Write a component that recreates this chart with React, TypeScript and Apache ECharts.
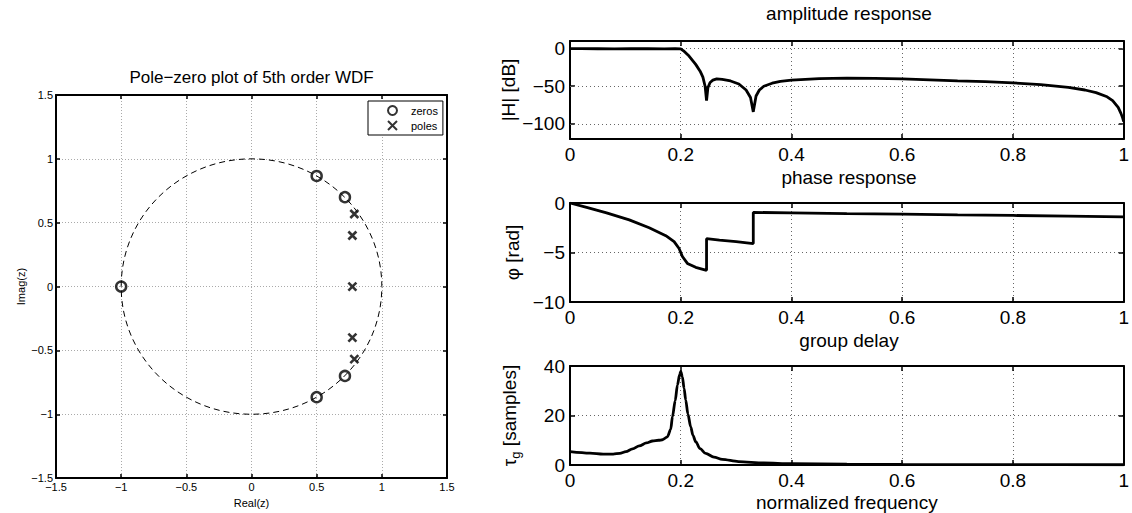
import React, { useEffect, useRef } from 'react';
import * as echarts from 'echarts';

// ---- pole-zero data ----
const zerosRe = [-1, 0.5, 0.5, 0.717, 0.717];
const zerosIm = [0, 0.866, -0.866, 0.7, -0.7];
const polesRe = [0.789, 0.774, 0.774, 0.774, 0.789];
const polesIm = [0.568, 0.4, 0, -0.4, -0.568];
const unitCircle = [[0, 0, 1]]; // centre re, centre im, radius

// ---- amplitude response ----
const ampFreq = [0, 0.02, 0.05, 0.08, 0.11, 0.14, 0.17, 0.19, 0.2, 0.205, 0.215, 0.227, 0.235, 0.24, 0.244, 0.2466, 0.249, 0.253, 0.258, 0.265, 0.275, 0.29, 0.305, 0.318, 0.326, 0.331, 0.336, 0.342, 0.35, 0.365, 0.38, 0.4, 0.45, 0.5, 0.55, 0.6, 0.65, 0.7, 0.75, 0.8, 0.85, 0.9, 0.93, 0.95, 0.97, 0.98, 0.99, 0.995, 0.998, 1.0];
const ampDb = [0, -0.1, -0.3, -0.45, -0.3, -0.2, -0.4, -0.3, -0.5, -3, -10, -21, -30, -38, -50, -69, -52, -45, -42, -40.3, -40.8, -43, -47, -55, -65, -84, -63, -55, -50, -46, -43.5, -42, -40, -39.2, -39.5, -40.3, -41.5, -42.8, -44, -45.5, -48, -51.5, -55, -58.5, -64, -69, -78, -86, -92, -97];
const ampTicks = [-100, -50, 0];

// ---- phase response ----
const phaseFreq = [0, 0.03, 0.066, 0.107, 0.143, 0.173, 0.188, 0.197, 0.203, 0.212, 0.227, 0.2466, 0.2466, 0.27, 0.3, 0.331, 0.331, 0.4, 0.5, 0.6, 0.7, 0.8, 0.9, 1.0];
const phaseRad = [0, -0.45, -1.0, -1.7, -2.5, -3.3, -3.9, -4.6, -5.4, -6.1, -6.5, -6.8, -3.6, -3.75, -3.9, -4.1, -0.95, -1.0, -1.07, -1.13, -1.2, -1.26, -1.32, -1.4];

// ---- group delay ----
const gdFreq = [0, 0.036, 0.06, 0.078, 0.09, 0.101, 0.113, 0.125, 0.138, 0.149, 0.16, 0.167, 0.176, 0.182, 0.185, 0.19, 0.194, 0.198, 0.2, 0.203, 0.206, 0.209, 0.213, 0.218, 0.222, 0.227, 0.235, 0.245, 0.26, 0.275, 0.304, 0.35, 0.4, 0.5, 0.6, 0.8, 1.0];
const gdSamples = [5.4, 4.8, 4.4, 4.4, 4.7, 5.4, 6.5, 7.7, 8.9, 9.7, 10.0, 10.2, 11.4, 14.5, 19.5, 26, 32.3, 36.5, 37.8, 35.6, 31, 26.2, 20.5, 15.4, 12, 9.4, 6.6, 4.7, 3.2, 2.3, 1.4, 0.8, 0.5, 0.3, 0.2, 0.15, 0.1];

const FONT = 'Liberation Sans, Arial, Helvetica, sans-serif';
const minus = (v: number) => (v < 0 ? '\u2212' + String(Math.abs(v)) : String(v));

const X_PATH = 'path://M0,0L10,10M10,0L0,10';

function mainX(grid: number, min: number, max: number, interval: number, fs: number, tickLen: number, margin: number, grid_color: string, dash: number[], name?: string, nameGap?: number) {
  return {
    type: 'value', gridIndex: grid, position: 'bottom', min, max, interval,
    name: name || '', nameLocation: 'middle', nameGap: nameGap || 0,
    nameTextStyle: { fontSize: fs, color: '#000', fontFamily: FONT },
    axisLine: { show: true, onZero: false, lineStyle: { color: '#000', width: 2 } },
    axisTick: { show: true, inside: true, length: tickLen, lineStyle: { color: '#000', width: 1.5 } },
    axisLabel: { show: true, fontSize: fs, color: '#000', fontFamily: FONT, margin, formatter: minus },
    splitLine: { show: true, lineStyle: { color: grid_color, type: dash, width: 1 } },
  };
}
function topX(grid: number, min: number, max: number, interval: number, tickLen: number) {
  return {
    type: 'value', gridIndex: grid, position: 'top', min, max, interval,
    axisLine: { show: true, onZero: false, lineStyle: { color: '#000', width: 2 } },
    axisTick: { show: true, inside: true, length: tickLen, lineStyle: { color: '#000', width: 1.5 } },
    axisLabel: { show: false },
    splitLine: { show: false },
  };
}
function leftY(grid: number, min: number, max: number, interval: number | undefined, fs: number, tickLen: number, margin: number, grid_color: string, dash: number[], name: any, nameGap: number, custom?: number[], nameRich?: any) {
  const ax: any = {
    type: 'value', gridIndex: grid, position: 'left', min, max,
    name, nameLocation: 'middle', nameGap, nameRotate: 90,
    nameTextStyle: { fontSize: fs, color: '#000', fontFamily: FONT, rich: nameRich },
    axisLine: { show: true, onZero: false, lineStyle: { color: '#000', width: 2 } },
    axisTick: { show: true, inside: true, length: tickLen, lineStyle: { color: '#000', width: 1.5 } },
    axisLabel: { show: true, fontSize: fs, color: '#000', fontFamily: FONT, margin, formatter: minus },
    splitLine: { show: !custom, lineStyle: { color: grid_color, type: dash, width: 1 } },
  };
  if (interval !== undefined) ax.interval = interval;
  if (custom) {
    ax.axisTick.customValues = custom;
    ax.axisLabel.customValues = custom;
  }
  return ax;
}
function rightY(grid: number, min: number, max: number, interval: number | undefined, tickLen: number, custom?: number[]) {
  const ax: any = {
    type: 'value', gridIndex: grid, position: 'right', min, max,
    axisLine: { show: true, onZero: false, lineStyle: { color: '#000', width: 2 } },
    axisTick: { show: true, inside: true, length: tickLen, lineStyle: { color: '#000', width: 1.5 } },
    axisLabel: { show: false },
    splitLine: { show: false },
  };
  if (interval !== undefined) ax.interval = interval;
  if (custom) ax.axisTick.customValues = custom;
  return ax;
}

export default function App() {
  const ref = useRef<HTMLDivElement>(null);
  useEffect(() => {
    if (!ref.current) return;
    const chart = echarts.init(ref.current, undefined, { renderer: 'svg' });
    const RGRID = '#666';
    const RDASH = [1, 3];
    const LGRID = '#aaa';
    const LDASH = [1, 2];
    const lineStyleBase = { color: '#000', width: 2.8 };
    const option: any = {
      animation: false,
      backgroundColor: '#fff',
      textStyle: { fontFamily: FONT },
      title: [
        { text: 'Pole\u2212zero plot of 5th order WDF', left: 251.5, top: 77, textAlign: 'center', textVerticalAlign: 'middle', padding: 0, textStyle: { fontSize: 17, fontWeight: 'normal', color: '#000', fontFamily: FONT } },
        { text: 'amplitude response', left: 849, top: 13, textAlign: 'center', textVerticalAlign: 'middle', padding: 0, textStyle: { fontSize: 19, fontWeight: 'normal', color: '#000', fontFamily: FONT } },
        { text: 'phase response', left: 849, top: 177, textAlign: 'center', textVerticalAlign: 'middle', padding: 0, textStyle: { fontSize: 19, fontWeight: 'normal', color: '#000', fontFamily: FONT } },
        { text: 'group delay', left: 849, top: 340, textAlign: 'center', textVerticalAlign: 'middle', padding: 0, textStyle: { fontSize: 19, fontWeight: 'normal', color: '#000', fontFamily: FONT } },
      ],
      legend: {
        data: ['zeros', 'poles'],
        orient: 'vertical',
        left: 368, top: 101,
        padding: [4, 5, 4, 19],
        itemWidth: 9, itemHeight: 9, itemGap: 4,
        borderColor: '#000', borderWidth: 1,
        backgroundColor: '#fff',
        selectedMode: false,
        textStyle: { fontSize: 11, color: '#000', fontFamily: FONT, padding: [0, 0, 0, 9] },
      },
      grid: [
        { left: 56, top: 95, width: 391, height: 392, containLabel: false },
        { left: 570, top: 41, width: 558, height: 98, containLabel: false },
        { left: 570, top: 203, width: 558, height: 99, containLabel: false },
        { left: 570, top: 366, width: 558, height: 99, containLabel: false },
      ],
      xAxis: [
        mainX(0, -1.5, 1.5, 0.5, 11, 4, 3, LGRID, LDASH, 'Real(z)', 15),
        topX(0, -1.5, 1.5, 0.5, 4),
        mainX(1, 0, 1, 0.2, 19, 5, 6, RGRID, RDASH),
        topX(1, 0, 1, 0.2, 5),
        mainX(2, 0, 1, 0.2, 19, 5, 6, RGRID, RDASH),
        topX(2, 0, 1, 0.2, 5),
        mainX(3, 0, 1, 0.2, 19, 5, 6, RGRID, RDASH, 'normalized frequency', 28),
        topX(3, 0, 1, 0.2, 5),
      ],
      yAxis: [
        leftY(0, -1.5, 1.5, 0.5, 11, 4, 3, LGRID, LDASH, 'Imag(z)', 30),
        rightY(0, -1.5, 1.5, 0.5, 4),
        leftY(1, -120, 10, undefined, 19, 5, 5, RGRID, RDASH, '|H| [dB]', 48, ampTicks),
        rightY(1, -120, 10, undefined, 5, ampTicks),
        leftY(2, -10, 0, 5, 19, 5, 5, RGRID, RDASH, '\u03C6 [rad]', 48),
        rightY(2, -10, 0, 5, 5),
        leftY(3, 0, 40, 20, 19, 5, 5, RGRID, RDASH, '{t|\u03C4}{s|g}{t| [samples]}', 48, undefined, {
          t: { fontSize: 19, color: '#000', fontFamily: FONT },
          s: { fontSize: 13, color: '#000', fontFamily: FONT, padding: [12, 0, 0, 0] },
        }),
        rightY(3, 0, 40, 20, 5),
      ],
      series: [
        {
          type: 'custom', xAxisIndex: 0, yAxisIndex: 0, silent: true,
          data: unitCircle,
          renderItem: (params: any, api: any) => {
            const c = api.coord([api.value(0), api.value(1)]);
            const s = api.size([api.value(2), api.value(2)]);
            return {
              type: 'ellipse',
              shape: { cx: c[0], cy: c[1], rx: s[0], ry: s[1] },
              style: { fill: 'none', stroke: '#000', lineWidth: 1, lineDash: [6, 4] },
            };
          },
        },
        {
          name: 'zeros', type: 'scatter', xAxisIndex: 0, yAxisIndex: 0,
          data: zerosRe.map((x, i) => [x, zerosIm[i]]),
          symbol: 'circle', symbolSize: 10,
          itemStyle: { color: 'rgba(0,0,0,0)', borderColor: '#000', borderWidth: 2.5 },
          z: 5,
        },
        {
          name: 'poles', type: 'scatter', xAxisIndex: 0, yAxisIndex: 0,
          data: polesRe.map((x, i) => [x, polesIm[i]]),
          symbol: X_PATH, symbolSize: 8,
          itemStyle: { color: '#000', borderColor: '#000', borderWidth: 2.6 },
          z: 5,
        },
        {
          type: 'line', xAxisIndex: 2, yAxisIndex: 2,
          data: ampFreq.map((f, i) => [f, ampDb[i]]),
          showSymbol: false, lineStyle: lineStyleBase, silent: true,
          markLine: {
            silent: true, symbol: ['none', 'none'], label: { show: false },
            lineStyle: { color: RGRID, type: RDASH, width: 1 },
            data: ampTicks.map((v) => ({ yAxis: v })),
            z: 1,
          },
        },
        {
          type: 'line', xAxisIndex: 4, yAxisIndex: 4,
          data: phaseFreq.map((f, i) => [f, phaseRad[i]]),
          showSymbol: false, lineStyle: lineStyleBase, silent: true,
        },
        {
          type: 'line', xAxisIndex: 6, yAxisIndex: 6,
          data: gdFreq.map((f, i) => [f, gdSamples[i]]),
          showSymbol: false, lineStyle: lineStyleBase, silent: true,
          smooth: 0.3, smoothMonotone: 'x',
        },
      ],
    };
    chart.setOption(option);
    return () => chart.dispose();
  }, []);
  return <div ref={ref} style={{ position: 'fixed', left: 0, top: 0, width: 1132, height: 513, background: '#fff' }} />;
}
